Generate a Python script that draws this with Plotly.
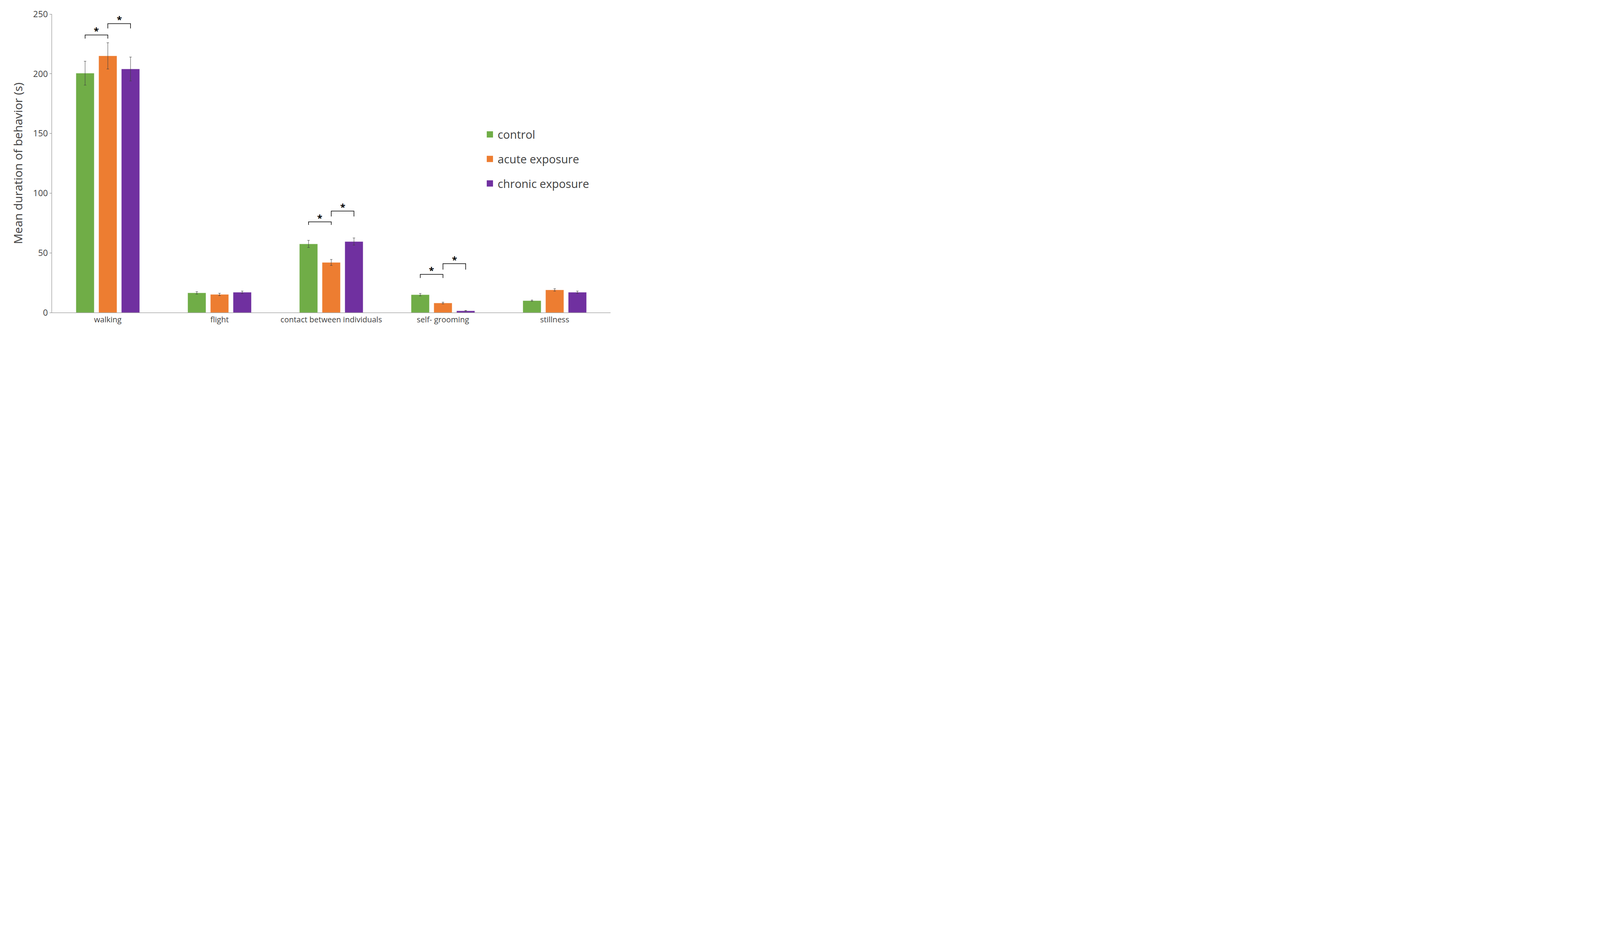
import plotly.graph_objects as go

categories = ["walking", "flight", "contact between individuals", "self- grooming", "stillness"]
groups = ["control", "acute exposure", "chronic exposure"]
colors = ["#70AD47", "#ED7D31", "#7030A0"]

control = [200.5, 16.5, 57.5, 15.0, 10.0]
acute = [215.0, 15.2, 42.0, 8.0, 19.0]
chronic = [204.0, 17.0, 59.5, 1.5, 17.0]
control_err = [10.0, 1.0, 3.0, 1.0, 0.5]
acute_err = [11.0, 1.0, 2.5, 0.7, 1.0]
chronic_err = [10.0, 1.0, 3.0, 0.3, 1.0]

# brackets: (category index, from group, to group, tick bottom, line top)
brackets = [
    (0, 0, 1, 229.5, 232.5), (0, 1, 2, 238, 242),
    (2, 0, 1, 73.5, 76), (2, 1, 2, 80.5, 85),
    (3, 0, 1, 29, 32), (3, 1, 2, 36, 41),
]

bargap = 0.39
slot = (1 - bargap) / 3
offsets = [-slot, 0, slot]

fig = go.Figure()
xs = list(range(len(categories)))
for i, (name, vals, errs, color) in enumerate(zip(groups, [control, acute, chronic],
                                   [control_err, acute_err, chronic_err], colors)):
    fig.add_bar(x=xs, y=vals, name=name, marker_color=color, showlegend=False,
                error_y=dict(type="data", array=errs, color="#404040", thickness=1, width=3))
    # legend proxy with a bigger square marker
    fig.add_scatter(x=[None], y=[None], mode="markers", name=name, legendgroup=f"g{i}",
                    marker=dict(symbol="square", size=18, color=color))

for cat, g1, g2, lo, hi in brackets:
    x1 = cat + offsets[g1]
    x2 = cat + offsets[g2]
    fig.add_shape(type="path", path=f"M {x1} {lo} L {x1} {hi} L {x2} {hi} L {x2} {lo}",
                  line=dict(color="#000000", width=1.5))
    fig.add_annotation(x=(x1 + x2) / 2, y=hi, text="<b>*</b>", showarrow=False, yanchor="bottom",
                       font=dict(size=24, color="#000000"), yshift=-8)

fig.update_layout(
    width=1568, height=851, template="plotly_white",
    barmode="group", bargap=bargap, bargroupgap=0.2,
    margin=dict(l=125, r=13, t=25, b=59),
    font=dict(family="Open Sans", color="#404040"),
    legend=dict(x=0.77, y=0.63, xanchor="left", yanchor="top", font=dict(size=29),
                tracegroupgap=22),
    showlegend=True,
)
fig.update_xaxes(tickvals=xs, ticktext=categories, range=[-0.5, 4.5], showgrid=False,
                 showline=True, linecolor="#808080", linewidth=1, tickfont=dict(size=20))
fig.update_yaxes(range=[0, 250], dtick=50, showgrid=False, showline=True, linecolor="#808080",
                 linewidth=1, ticks="outside", ticklen=5, tickcolor="#808080",
                 tickfont=dict(size=22), zeroline=False,
                 title=dict(text="Mean duration of behavior (s)", font=dict(size=30), standoff=18))

fig.write_html("out.html")
